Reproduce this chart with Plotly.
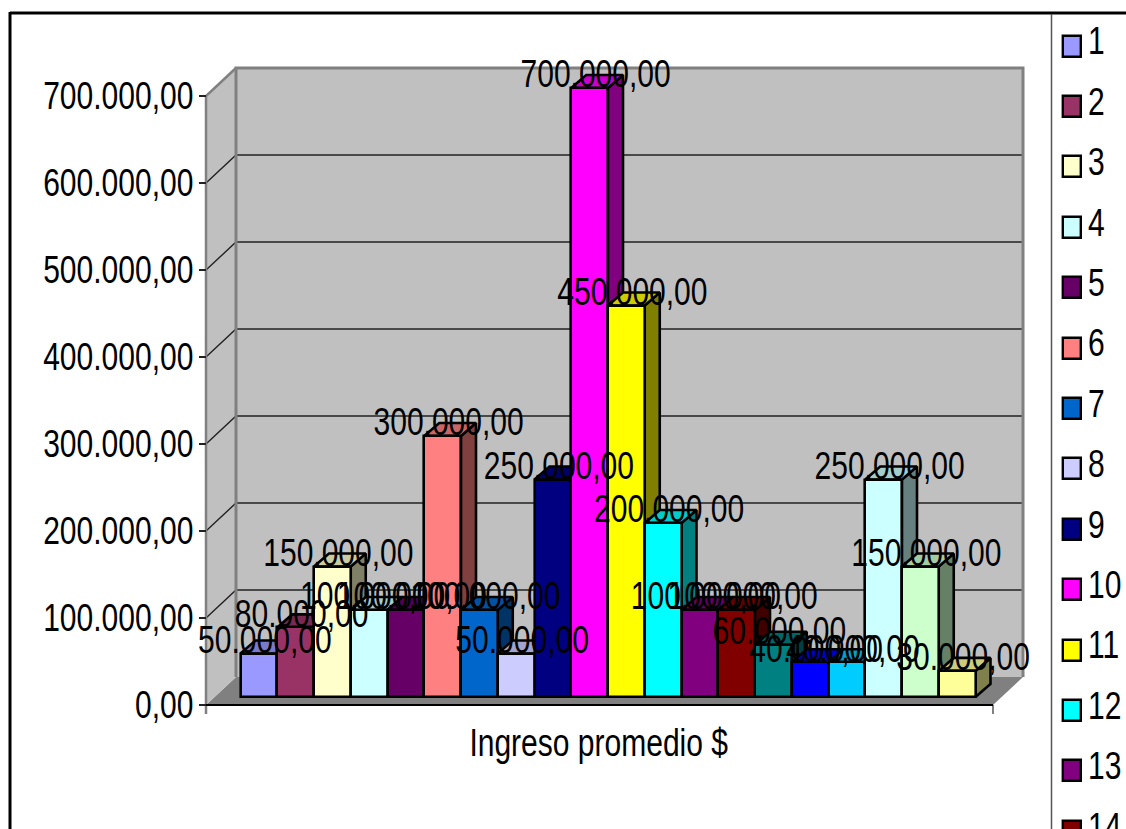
import plotly.graph_objects as go

# Ingreso promedio por encuestado
series = list(range(1, 21))
ingreso = [50000, 80000, 150000, 100000, 100000, 300000, 100000, 50000, 250000, 700000,
           450000, 200000, 100000, 100000, 60000, 40000, 40000, 250000, 150000, 30000]
colores = ["#9999FF", "#993366", "#FFFFCC", "#CCFFFF", "#660066", "#FF8080", "#0066CC", "#CCCCFF",
           "#000080", "#FF00FF", "#FFFF00", "#00FFFF", "#800080", "#800000", "#008080", "#0000FF",
           "#00CCFF", "#CCFFFF", "#CCFFCC", "#FFFF99"]
ticks_y = [0, 100000, 200000, 300000, 400000, 500000, 600000, 700000]
titulo_x = "Ingreso promedio $"

W, H = 1126, 829
FONT = "Liberation Sans, Arial, sans-serif"
FS = 38

# Projection of the oblique 3D box, in page pixels
K = 609 / 700000          # pixels per currency unit
STEP = 36.75              # pixels per category
BAR0_LEFT = 240.5
FRONT_L, FRONT_R, FRONT_FLOOR = 206, 993, 705
BAR_FLOOR = 697
WALL_DX, WALL_DY = 30, 28
BAR_DX, BAR_DY = 15, 13
EDGE = 2.6


def ux(px):
    return 0.5 + (px - BAR0_LEFT) / STEP


def vy(px_up):
    return px_up / K


def es(v):
    return f"{v:,.2f}".replace(",", "X").replace(".", ",").replace("X", ".")


def darken(hex_color, f):
    r, g, b = (int(hex_color[i:i + 2], 16) for i in (1, 3, 5))
    return f"rgb({round(r * f)},{round(g * f)},{round(b * f)})"


fig = go.Figure()


def poly(xs, ys, fill=None, line="rgba(0,0,0,0)", width=0):
    fig.add_trace(go.Scatter(
        x=xs, y=ys, mode="lines", hoverinfo="skip",
        fill="toself" if fill else "none", fillcolor=fill,
        line=dict(color=line, width=width), xaxis="x", yaxis="y"))


xl, xr = ux(FRONT_L), ux(FRONT_R)
dx, dy = WALL_DX / STEP, vy(WALL_DY)
top = ticks_y[-1]

# Floor, side wall and back wall
poly([xl, xr, xr + dx, xl + dx, xl], [0, 0, dy, dy, 0], "#808080")
poly([xl, xl + dx, xl + dx, xl, xl], [0, dy, top + dy, top, 0], "#C0C0C0")
poly([xl + dx, xr + dx, xr + dx, xl + dx, xl + dx], [dy, dy, top + dy, top + dy, dy], "#C0C0C0")

# Gridlines across both walls
for t in ticks_y[1:-1]:
    poly([xl, xl + dx, xr + dx], [t, t + dy, t + dy], line="#222222", width=1.4)

# Wall outlines
poly([xl + dx, xl + dx, xr + dx, xr + dx], [dy, top + dy, top + dy, dy], line="#808080", width=3)
poly([xl, xl, xl + dx], [vy(-9), top, top + dy], line="#808080", width=2.5)
poly([xr, xr], [0, vy(-9)], line="#808080", width=2)
poly([xl, xr], [0, 0], line="#000000", width=2)

# Side and top faces of each column, painted left to right
lift = vy(FRONT_FLOOR - BAR_FLOOR)
bdx, bdy = BAR_DX / STEP, vy(BAR_DY)
for s, v, c in zip(series, ingreso, colores):
    a, b = s - 0.5, s + 0.5
    y0, y1 = lift, v + lift
    poly([b, b + bdx, b + bdx, b, b], [y0, y0 + bdy, y1 + bdy, y1, y0],
         darken(c, 0.5), "#000000", EDGE)
    poly([a, b, b + bdx, a + bdx, a], [y1, y1, y1 + bdy, y1 + bdy, y1],
         darken(c, 0.8), "#000000", EDGE)

# Front faces
fig.add_trace(go.Bar(
    x=series, y=ingreso, width=1, hoverinfo="skip",
    marker=dict(color=colores, line=dict(color="#000000", width=EDGE)),
    xaxis="x2", yaxis="y2"))

# Value labels, centred over the back edge of each column
fig.add_trace(go.Scatter(
    x=[s + 6 / STEP for s in series],
    y=[v + bdy - vy(3) for v in ingreso],
    text=[es(v) for v in ingreso],
    mode="text", textposition="middle center", hoverinfo="skip",
    textfont=dict(family=FONT, size=FS, color="#000000"),
    cliponaxis=False, xaxis="x2", yaxis="y2"))

# Key on the right-hand side
fig.add_trace(go.Bar(
    y=series, x=[18] * len(series), base=[1063] * len(series), width=21 / 60.4,
    orientation="h", hoverinfo="skip",
    marker=dict(color=colores, line=dict(color="#000000", width=2.4)),
    xaxis="x3", yaxis="y3"))
fig.add_trace(go.Scatter(
    x=[1088] * len(series), y=[s - 1 / 60.4 for s in series],
    text=[str(s) for s in series], mode="text", textposition="middle right",
    hoverinfo="skip", textfont=dict(family=FONT, size=FS, color="#000000"),
    xaxis="x3", yaxis="y3"))

x_range = [ux(0), ux(W)]
hidden = dict(visible=False, showgrid=False, zeroline=False, fixedrange=True)

fig.update_layout(
    width=W, height=H, autosize=False,
    margin=dict(l=0, r=0, t=0, b=0, pad=0),
    paper_bgcolor="#FFFFFF", plot_bgcolor="rgba(0,0,0,0)",
    showlegend=False, barmode="overlay", bargap=0,
    font=dict(family=FONT, size=FS, color="#000000"),
    xaxis=dict(range=x_range, domain=[0, 1], **hidden),
    yaxis=dict(
        range=[(FRONT_FLOOR - H) / K, FRONT_FLOOR / K], domain=[0, 1],
        anchor="free", position=FRONT_L / W, showline=False, showgrid=False, zeroline=False,
        tickmode="array", tickvals=ticks_y, ticktext=[es(t) for t in ticks_y],
        ticks="outside", ticklen=7, tickwidth=1.5, tickcolor="#222222",
        ticklabelstandoff=-2, tickfont=dict(family=FONT, size=FS, color="#000000"),
        fixedrange=True),
    xaxis2=dict(range=x_range, overlaying="x", anchor="y2", **hidden),
    yaxis2=dict(range=[(BAR_FLOOR - H) / K, BAR_FLOOR / K], overlaying="y", anchor="x2", **hidden),
    xaxis3=dict(range=[0, W], overlaying="x", anchor="y3", **hidden),
    yaxis3=dict(range=[1 + (H - 46) / 60.4, 1 - 46 / 60.4], overlaying="y", anchor="x3", **hidden),
    annotations=[dict(
        text=titulo_x, xref="paper", yref="paper", x=598 / W, y=1 - 743 / H,
        xanchor="center", yanchor="middle", showarrow=False,
        font=dict(family=FONT, size=FS, color="#000000"))],
    shapes=[
        # Chart frame and the rule beside the key
        dict(type="line", xref="paper", yref="paper", x0=10 / W, x1=1, y0=1 - 13 / H, y1=1 - 13 / H,
             line=dict(color="#000000", width=3)),
        dict(type="line", xref="paper", yref="paper", x0=10 / W, x1=10 / W, y0=1 - 12 / H, y1=0,
             line=dict(color="#000000", width=3)),
        dict(type="line", xref="paper", yref="paper", x0=1051.5 / W, x1=1051.5 / W, y0=1 - 14 / H, y1=0,
             line=dict(color="#555555", width=1.5)),
    ],
)

# All chart text is set in a narrow cut: squeeze each label horizontally about its anchor
NARROW = """
var gd = document.getElementById('{plot_id}');
gd.querySelectorAll('svg text').forEach(function (t) {
    if (!t.textContent) { return; }
    var b = t.getBBox();
    var anchor = t.getAttribute('text-anchor') || t.style.textAnchor || 'start';
    var ox = anchor === 'end' ? b.x + b.width : anchor === 'middle' ? b.x + b.width / 2 : b.x;
    var prior = t.getAttribute('transform') || '';
    t.setAttribute('transform', prior + ' translate(' + ox + ',0) scale(0.79,1) translate(' + (-ox) + ',0)');
});
"""

fig.write_html("out.html", post_script=NARROW)
